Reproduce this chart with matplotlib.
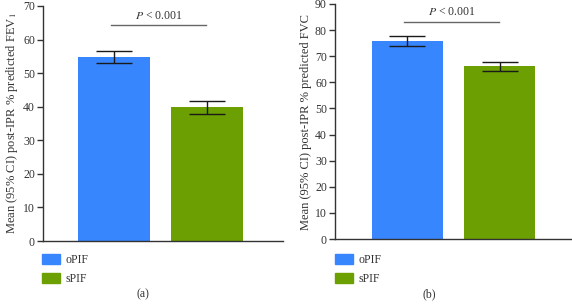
import matplotlib
matplotlib.use('Agg')
import matplotlib.pyplot as plt
from matplotlib.patches import Patch

plt.rcParams['font.family'] = ['Liberation Serif', 'DejaVu Serif']
plt.rcParams['mathtext.fontset'] = 'stix'

# data
groups = ['oPIF', 'sPIF']
colors = ['#3786fd', '#6b9f02']

fev_mean = [54.8, 39.9]
fev_lo = [53.0, 37.8]
fev_hi = [56.6, 41.8]

fvc_mean = [76.0, 66.3]
fvc_lo = [74.0, 64.4]
fvc_hi = [77.8, 67.9]

p_text = '$P$ < 0.001'

fig = plt.figure(figsize=(5.72, 3.05), dpi=100)
W, H = 572., 305.
FS = 8.5

def px_axes(x0, y0, x1, y1):
    return fig.add_axes([x0 / W, 1 - y1 / H, (x1 - x0) / W, (y1 - y0) / H])

def panel(ax, mean, lo, hi, ymax, ylabel, pline_y, xlim):
    x = range(len(mean))
    err = [[m - l for m, l in zip(mean, lo)], [h - m for m, h in zip(mean, hi)]]
    ax.bar(x, mean, width=0.77, color=colors, zorder=2)
    ax.errorbar(x, mean, yerr=err, fmt='none', ecolor='#1a1a1a',
                elinewidth=1.0, capsize=13, capthick=1.0, zorder=3)
    ax.set_xlim(*xlim)
    ax.set_ylim(0, ymax)
    ax.set_yticks(range(0, ymax + 1, 10))
    ax.set_xticks([])
    for s in ['top', 'right']:
        ax.spines[s].set_visible(False)
    for s in ['left', 'bottom']:
        ax.spines[s].set_color('#333333')
        ax.spines[s].set_linewidth(1.0)
    ax.tick_params(axis='y', length=4.3, width=1.0, color='#333333',
                   labelsize=FS, labelcolor='#333333', pad=1.5)
    ax.set_ylabel(ylabel, fontsize=9, color='#333333', labelpad=2)
    ax.plot([-0.03, 0.99], [pline_y, pline_y], color='#666666', lw=1.0,
            clip_on=False)
    ax.text(0.48, pline_y + ymax * 0.015, p_text, ha='center', va='bottom',
            fontsize=FS, color='#333333')

ax1 = px_axes(43, 6, 283, 241)
panel(ax1, fev_mean, fev_lo, fev_hi, 70,
      'Mean (95% CI) post-IPR % predicted FEV$_1$', 64.2, (-0.76, 1.81))

ax2 = px_axes(335, 4, 572, 239)
panel(ax2, fvc_mean, fvc_lo, fvc_hi, 90,
      'Mean (95% CI) post-IPR % predicted FVC', 83.1, (-0.78, 1.78))

handles = [Patch(color=c) for c in colors]
for x0 in [42, 335]:
    fig.legend(handles, groups, loc='upper left',
               bbox_to_anchor=(x0 / W, 1 - 254 / H), frameon=False,
               fontsize=FS, handlelength=1.5, handleheight=0.95,
               labelspacing=0.6, handletextpad=0.45, borderpad=0,
               borderaxespad=0, labelcolor='#333333')

fig.text(143 / W, 1 - 294 / H, '(a)', ha='center', va='center',
         fontsize=FS, color='#333333')
fig.text(429 / W, 1 - 294 / H, '(b)', ha='center', va='center',
         fontsize=FS, color='#333333')

fig.savefig('out.png', dpi=100)
